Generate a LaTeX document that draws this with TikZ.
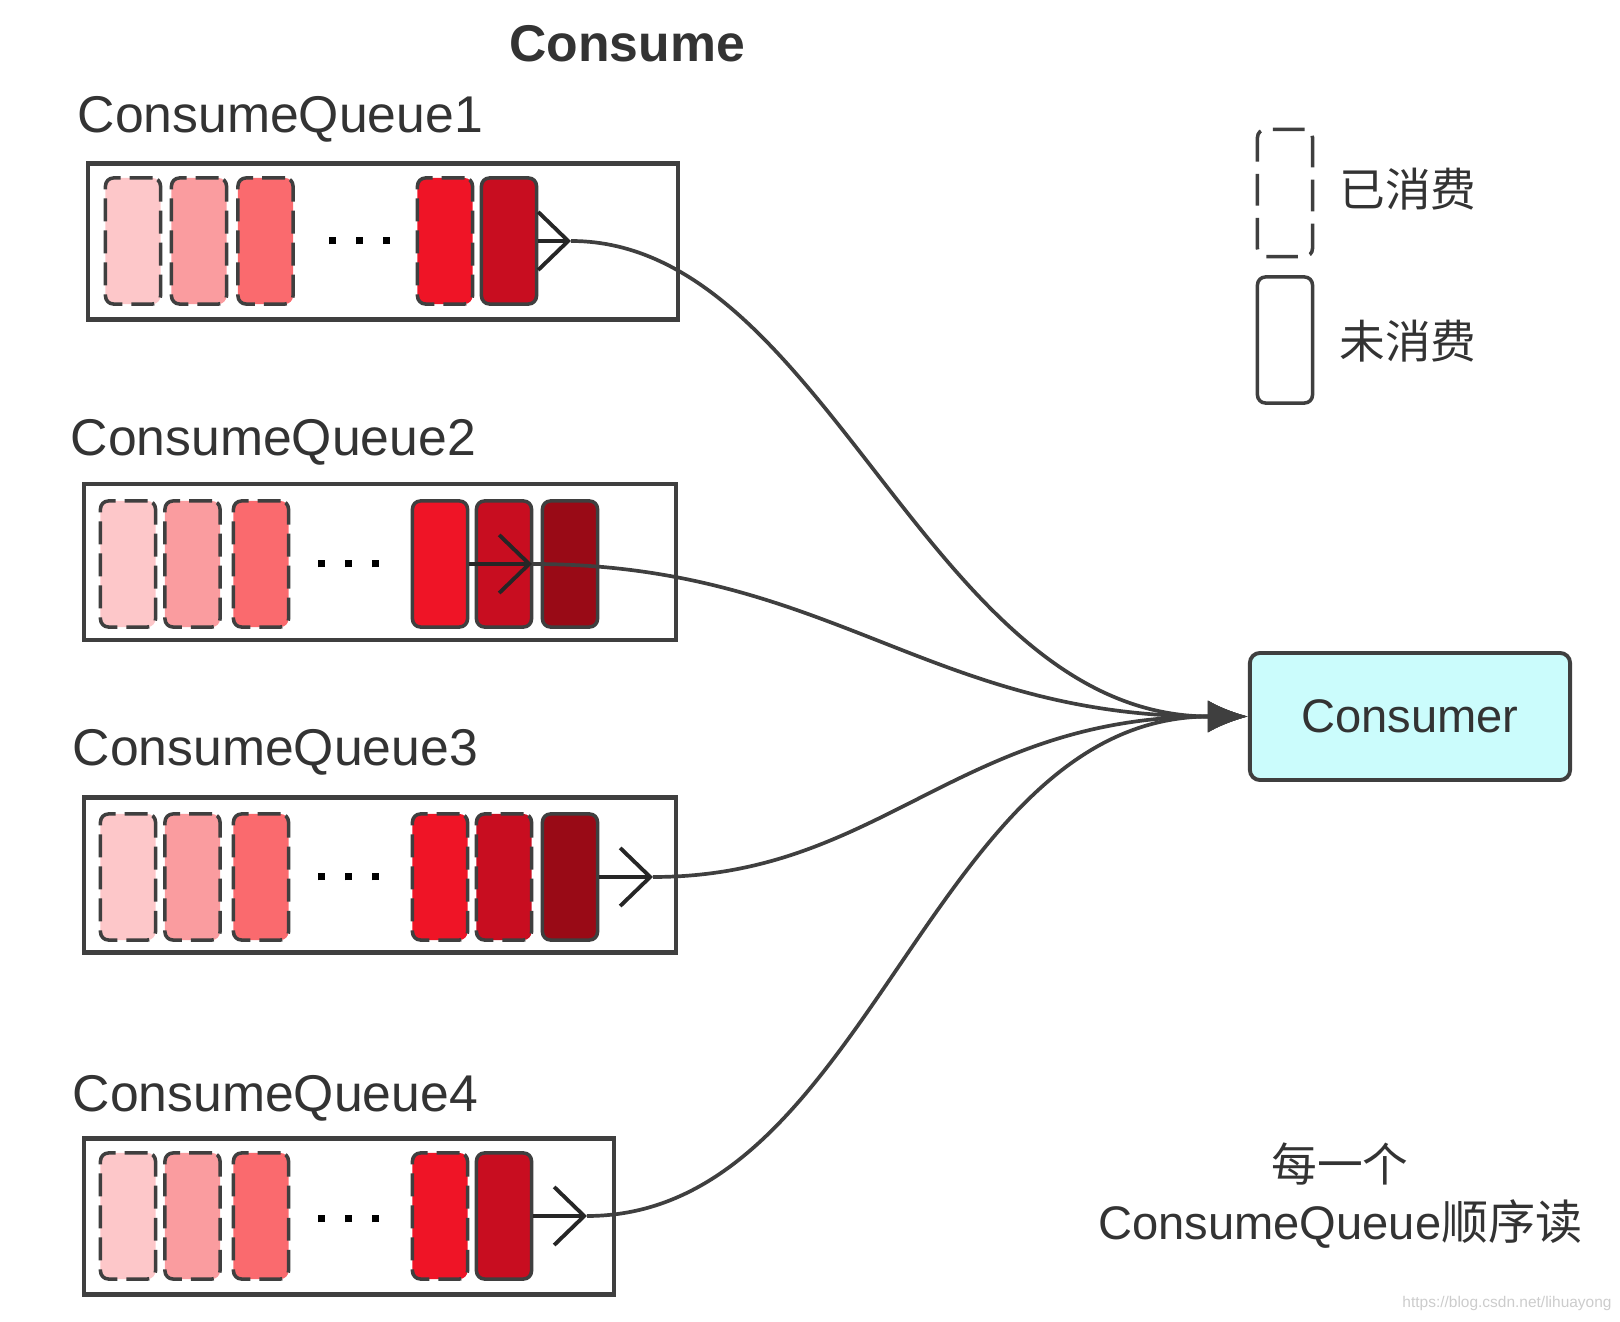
\documentclass[tikz,border=0pt]{standalone}
\usepackage{fontspec}
\setmainfont{Liberation Sans}
\newfontfamily\cjk{Noto Sans CJK SC}
\usetikzlibrary{arrows.meta}

\definecolor{msgA}{HTML}{FDC7C9}
\definecolor{msgB}{HTML}{FA9C9F}
\definecolor{msgC}{HTML}{FA6A6E}
\definecolor{msgD}{HTML}{EF1426}
\definecolor{msgE}{HTML}{C80D20}
\definecolor{msgF}{HTML}{990A16}
\definecolor{edgegray}{HTML}{3F3F3F}
\definecolor{textgray}{HTML}{333333}
\definecolor{consfill}{HTML}{CBFCFC}

\newcommand{\qdots}{\rule{0.07cm}{0.07cm}\hspace{0.2cm}\rule{0.07cm}{0.07cm}\hspace{0.2cm}\rule{0.07cm}{0.07cm}}

\tikzset{
	msg/.style={rectangle, rounded corners=0.08cm, draw=edgegray, line width=1pt,
		minimum width=0.55cm, minimum height=1.26cm, inner sep=0pt},
	used/.style={msg, dash pattern=on 6.5pt off 2.6pt},
	queue/.style={rectangle, draw=edgegray, line width=1.2pt, minimum height=1.56cm, inner sep=0pt},
	qname/.style={anchor=west, inner sep=0pt, text=textgray, font=\fontsize{14.7}{17}\selectfont},
	note/.style={inner sep=0pt, text=textgray, font=\fontsize{13}{16}\selectfont},
	grab/.style={draw=black!85, line width=1.1pt, -{Straight Barb[length=0.3cm,width=0.58cm]}},
	flow/.style={draw=edgegray, line width=1.05pt, -{Latex[length=0.4cm,width=0.32cm]}}
}

\begin{document}
\begin{tikzpicture}[x=0.01cm, y=-0.01cm]
	
	\useasboundingbox (0,0) rectangle (1620,1322);
	
	\node[inner sep=0pt, text=textgray, font=\bfseries\fontsize{14.7}{17}\selectfont]
	(Title) at (627,44) {Consume};
	
	% queue 1
	\node[qname] (Name1) at (77,119) {ConsumeQueue1};
	\node[queue, minimum width=5.9cm] (Queue1) at (383,241.5) {};
	\node[used, fill=msgA] (Msg1-1) at (133,241) {};
	\node[used, fill=msgB] (Msg1-2) at (199,241) {};
	\node[used, fill=msgC] (Msg1-3) at (265.5,241) {};
	\node[inner sep=0pt] (Dots1) at (359.5,241) {\qdots};
	\node[used, fill=msgD] (Msg1-4) at (445,241) {};
	\node[msg, fill=msgE] (Msg1-5) at (509,241) {};
	
	% queue 2
	\node[qname] (Name2) at (70,442) {ConsumeQueue2};
	\node[queue, minimum width=5.91cm] (Queue2) at (380,562) {};
	\node[used, fill=msgA] (Msg2-1) at (128,564) {};
	\node[used, fill=msgB] (Msg2-2) at (192.5,564) {};
	\node[used, fill=msgC] (Msg2-3) at (261,564) {};
	\node[inner sep=0pt] (Dots2) at (348.7,564) {\qdots};
	\node[msg, fill=msgD] (Msg2-4) at (440,564) {};
	\node[msg, fill=msgE] (Msg2-5) at (504,564) {};
	\node[msg, fill=msgF] (Msg2-6) at (570,564) {};
	
	% queue 3
	\node[qname] (Name3) at (72,752) {ConsumeQueue3};
	\node[queue, minimum width=5.91cm, minimum height=1.55cm] (Queue3) at (380,875) {};
	\node[used, fill=msgA] (Msg3-1) at (128,877) {};
	\node[used, fill=msgB] (Msg3-2) at (192.5,877) {};
	\node[used, fill=msgC] (Msg3-3) at (261,877) {};
	\node[inner sep=0pt] (Dots3) at (348.7,877) {\qdots};
	\node[used, fill=msgD] (Msg3-4) at (440,877) {};
	\node[used, fill=msgE] (Msg3-5) at (504,877) {};
	\node[msg, fill=msgF] (Msg3-6) at (570,877) {};
	
	% queue 4
	\node[qname] (Name4) at (72,1098) {ConsumeQueue4};
	\node[queue, minimum width=5.29cm] (Queue4) at (349,1216.5) {};
	\node[used, fill=msgA] (Msg4-1) at (128,1216) {};
	\node[used, fill=msgB] (Msg4-2) at (192.5,1216) {};
	\node[used, fill=msgC] (Msg4-3) at (261,1216) {};
	\node[inner sep=0pt] (Dots4) at (348.7,1219) {\qdots};
	\node[used, fill=msgD] (Msg4-4) at (440,1216) {};
	\node[msg, fill=msgE] (Msg4-5) at (504,1216) {};
	
	% consumer
	\node[rectangle, rounded corners=0.1cm, draw=edgegray, fill=consfill, line width=1.1pt,
	minimum width=3.2cm, minimum height=1.27cm, text=black!80,
	font=\fontsize{13.4}{16}\selectfont] 
	(Consumer) at (1410,716.5) {Consumer};
	
	% legend
	\node[msg, fill=white, dash pattern=on 9pt off 3.5pt, minimum height=1.27cm] (KeyUsed) at (1285,193) {};
	\node[msg, fill=white] (KeyNew) at (1285,340) {};
	\node[note] (KeyUsedText) at (1408,189) {\cjk 已消费};
	\node[note] (KeyNewText) at (1408,341) {\cjk 未消费};
	
	\node[note] (Remark1) at (1340,1164) {\cjk 每一个};
	\node[note, font=\fontsize{13.4}{16}\selectfont] (Remark2) at (1340.5,1224) {ConsumeQueue{\cjk 顺序读}};
	\node[inner sep=0pt, text=black!20, font=\fontsize{4.4}{5}\selectfont] 
	(Mark) at (1507,1304) {https://blog.csdn.net/lihuayong};
	
	% read pointers
	\coordinate (Tip1) at (571,241);
	\coordinate (Tip2) at (532,564);
	\coordinate (Tip3) at (653,877);
	\coordinate (Tip4) at (587,1216);
	
	\draw[grab] (Msg1-5.east) -- (Tip1);
	\draw[grab] (Msg2-4.east) -- (Tip2);
	\draw[grab] (Msg3-6.east) -- (Tip3);
	\draw[grab] (Msg4-5.east) -- (Tip4);
	
	\draw[flow] (Tip1) .. controls +(256,0) and +(-320,0) .. (Consumer.west);
	\draw[flow] (Tip2) .. controls +(298,0) and +(-320,0) .. (Consumer.west);
	\draw[flow] (Tip3) .. controls +(227,0) and +(-290,0) .. (Consumer.west);
	\draw[flow] (Tip4) .. controls +(283,0) and +(-320,0) .. (Consumer.west);
	
\end{tikzpicture}
\end{document}
